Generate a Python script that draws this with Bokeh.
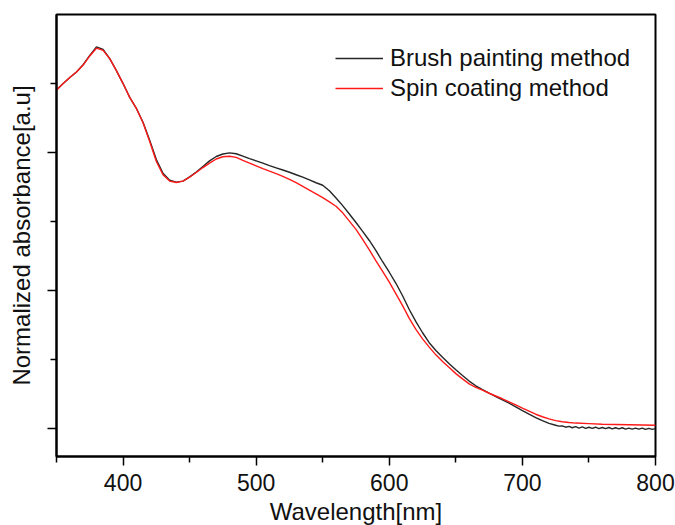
from bokeh.plotting import figure
from bokeh.models import FixedTicker, Range1d, Legend, LegendItem, CustomJSTickFormatter
from bokeh.embed import file_html
from bokeh.resources import INLINE

FONT = "Liberation Sans"

# Wavelength grid (nm) for the main part of both spectra
wl_main = [350, 355, 360, 365, 370, 375, 380, 385, 390, 395,
           400, 405, 410, 415, 420, 425, 430, 435, 440, 445,
           450, 455, 460, 465, 470, 475, 480, 485, 490, 495,
           500, 505, 510, 515, 520, 525, 530, 535, 540, 545,
           550, 555, 560, 565, 570, 575, 580, 585, 590, 595,
           600, 605, 610, 615, 620, 625, 630, 635, 640, 645,
           650, 655, 660, 665, 670, 675, 680, 685, 690, 695,
           700, 705, 710, 715, 720]

# Brush painting film, normalized absorbance
brush_main = [1.227, 1.250, 1.272, 1.292, 1.318, 1.352, 1.383, 1.374, 1.340, 1.297,
              1.250, 1.200, 1.160, 1.110, 1.045, 0.975, 0.925, 0.900, 0.893, 0.897,
              0.912, 0.930, 0.950, 0.970, 0.986, 0.995, 0.999, 0.996, 0.987, 0.978,
              0.970, 0.962, 0.953, 0.945, 0.937, 0.929, 0.920, 0.911, 0.901, 0.891,
              0.882, 0.862, 0.836, 0.808, 0.778, 0.747, 0.715, 0.682, 0.645, 0.605,
              0.567, 0.527, 0.482, 0.432, 0.388, 0.348, 0.312, 0.284, 0.259, 0.236,
              0.214, 0.193, 0.173, 0.156, 0.142, 0.129, 0.117, 0.105, 0.093, 0.080,
              0.066, 0.053, 0.041, 0.030, 0.020]
# Noisy baseline of the brush painting film
wl_brush_tail = [725, 727.5, 730, 732.5, 735, 737.5, 740, 742.5, 745, 747.5,
                 750, 752.5, 755, 757.5, 760, 762.5, 765, 767.5, 770, 772.5,
                 775, 777.5, 780, 782.5, 785, 787.5, 790, 792.5, 795, 797.5, 800]
brush_tail = [0.013, 0.010, 0.011, 0.006, 0.009, 0.004, 0.008, 0.003, 0.007, 0.002,
              0.006, 0.002, 0.006, 0.001, 0.005, 0.001, 0.005, 0.000, 0.004, 0.000,
              0.004, -0.001, 0.003, -0.001, 0.003, -0.001, 0.003, -0.002, 0.002, -0.002, 0.001]

# Spin coating film, normalized absorbance
spin_main = [1.227, 1.250, 1.272, 1.292, 1.317, 1.350, 1.378, 1.370, 1.340, 1.297,
             1.250, 1.200, 1.160, 1.108, 1.040, 0.968, 0.920, 0.897, 0.892, 0.897,
             0.911, 0.928, 0.946, 0.962, 0.977, 0.985, 0.987, 0.983, 0.972, 0.962,
             0.952, 0.942, 0.933, 0.924, 0.914, 0.903, 0.891, 0.878, 0.864, 0.851,
             0.837, 0.822, 0.806, 0.782, 0.752, 0.722, 0.686, 0.648, 0.608, 0.570,
             0.531, 0.489, 0.446, 0.400, 0.360, 0.326, 0.296, 0.268, 0.244, 0.222,
             0.200, 0.181, 0.163, 0.150, 0.140, 0.129, 0.119, 0.109, 0.098, 0.087,
             0.075, 0.064, 0.053, 0.044, 0.036]
wl_spin_tail = [725, 730, 735, 740, 750, 760, 770, 780, 790, 800]
spin_tail = [0.030, 0.026, 0.023, 0.021, 0.019, 0.017, 0.016, 0.015, 0.014, 0.013]

wl_brush = wl_main + wl_brush_tail
brush = brush_main + brush_tail
wl_spin = wl_main + wl_spin_tail
spin = spin_main + spin_tail

x_major = [400, 500, 600, 700, 800]
x_minor = [350, 450, 550, 650, 750]
y_major = [0.0, 0.5, 1.0]
y_minor = [0.25, 0.75, 1.25]

p = figure(frame_width=599, frame_height=442,
           min_border_left=56, min_border_right=20,
           min_border_top=14, min_border_bottom=69,
           x_range=Range1d(350, 800), y_range=Range1d(-0.1, 1.5),
           output_backend="svg", toolbar_location=None,
           background_fill_color="white", border_fill_color="white")

p.grid.visible = False
p.outline_line_color = "black"
p.outline_line_width = 2

r_brush = p.line(wl_brush, brush, line_color="#262626", line_width=1.4)
r_spin = p.line(wl_spin, spin, line_color="#ff1a1a", line_width=1.4)

p.xaxis.ticker = FixedTicker(ticks=x_major, minor_ticks=x_minor)
p.yaxis.ticker = FixedTicker(ticks=y_major, minor_ticks=y_minor)

for ax in (p.xaxis[0], p.yaxis[0]):
    ax.axis_line_width = 2
    ax.axis_line_color = "black"
    ax.major_tick_line_width = 1.5
    ax.minor_tick_line_width = 1.5
    ax.major_tick_in = 0
    ax.major_tick_out = 9
    ax.minor_tick_in = 0
    ax.minor_tick_out = 6
    ax.axis_label_text_font = FONT
    ax.axis_label_text_font_style = "normal"
    ax.axis_label_text_color = "#111111"
    ax.major_label_text_font = FONT
    ax.major_label_text_color = "#111111"

p.xaxis.axis_label = "Wavelength[nm]"
p.xaxis.axis_label_text_font_size = "24px"
p.xaxis.major_label_text_font_size = "23px"
p.xaxis.major_label_standoff = 8
p.xaxis.axis_label_standoff = 4

# the absorbance axis carries ticks only, no numbers
p.yaxis.axis_label = "Normalized absorbance[a.u]"
p.yaxis.axis_label_text_font_size = "24px"
p.yaxis.formatter = CustomJSTickFormatter(code="return '';")
p.yaxis.major_label_standoff = 0
p.yaxis.axis_label_standoff = 13

legend = Legend(items=[LegendItem(label="Brush painting method", renderers=[r_brush]),
                       LegendItem(label="Spin coating method", renderers=[r_spin])],
                location=(279, 353), orientation="vertical",
                padding=0, margin=0, spacing=0,
                glyph_width=48, glyph_height=30, label_height=30,
                label_standoff=7,
                label_text_font=FONT, label_text_font_size="24px",
                label_text_color="#111111",
                border_line_color=None, background_fill_alpha=0)
p.add_layout(legend)

open("out.html", "w").write(file_html(p, INLINE))
